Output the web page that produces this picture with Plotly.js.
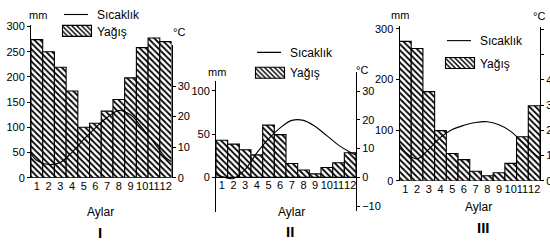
<!DOCTYPE html>
<html>
<head>
<meta charset="utf-8">
<script src="https://cdn.plot.ly/plotly-3.0.1.min.js"></script>
<style>html,body{margin:0;padding:0;background:#fff;}#chart{width:550px;height:243px;}</style>
</head>
<body>
<div id="chart"></div>
<script>
// ---- data ----
const months = [1,2,3,4,5,6,7,8,9,10,11,12];
const monthLabels = ['1','2','3','4','5','6','7','8','9','10','11','12'];

// Panel I
const rainI = [274, 250, 219, 172, 100, 108, 132, 155, 198, 258, 277, 270];
const tempI = [5.6, 4.3, 5.0, 8.3, 12.5, 16.3, 19.7, 22.0, 20.6, 16.3, 11.5, 6.6];
const tempIEdges = [7.7, 5.2];

// Panel II
const rainII = [43, 38.5, 32, 26, 60.5, 49.5, 16, 8.5, 4, 11.5, 17, 28.5];
const tempII = [0.3, -0.4, 2.7, 8.5, 13.4, 17.2, 19.8, 19.8, 17.7, 14.5, 11.2, 8.7];
const tempIIEdges = [1.0, 7.7];

// Panel III
const rainIII = [275, 261, 176, 99, 54, 42, 19, 10, 16, 34.5, 87, 148];
const tempIII = [11.4, 8.7, 12.5, 17.2, 20.3, 22.0, 23.1, 23.4, 22.2, 19.6, 15.2, 10.8];
const tempIIIEdges = [14.5, 9.1];

const mmTicksI = [0,50,100,150,200,250,300];
const cTicksI = [0,10,20,30];
const mmTicksII = [0,50,100];
const cTicksII = [-10,0,10,20,30];
const mmTicksIII = [0,100,200,300];
const cTicksIII = [0,10,20,30,40,50,60];
const cTextIII = ['0','10','20','30','40','',''];

const nameLine = 'Sıcaklık';
const nameBar = 'Yağış';

// ---- helpers ----
const W = 550, H = 243;
const px = v => v / W;
const py = v => 1 - v / H;
const FONT = 'Liberation Sans, Arial, sans-serif';

const edgeX = [0.5].concat(months, [12.5]);
function lineY(t, e){ return [e[0]].concat(t, [e[1]]); }

const pattern = {shape: '\\', fgcolor: '#000', bgcolor: '#fff', size: 4.3, solidity: 0.42, fillmode: 'replace'};
function barTrace(y, xa, ya, lg){
  return {type:'bar', x: months, y: y, xaxis: xa, yaxis: ya, name: nameBar, legend: lg,
    marker: {color:'#fff', line:{color:'#000', width:1.1}, pattern: pattern}, width: 1, hoverinfo:'skip'};
}
function lineTrace(t, e, xa, ya, lg){
  return {type:'scatter', mode:'lines', x: edgeX, y: lineY(t, e), xaxis: xa, yaxis: ya, name: nameLine, legend: lg,
    line: {color:'#000', width:1.1, shape:'spline', smoothing:1}, hoverinfo:'skip', cliponaxis:false};
}

const traces = [
  barTrace(rainI, 'x', 'y', 'legend2'),
  lineTrace(tempI, tempIEdges, 'x', 'y2', 'legend'),
  barTrace(rainII, 'x2', 'y3', 'legend4'),
  lineTrace(tempII, tempIIEdges, 'x2', 'y4', 'legend3'),
  barTrace(rainIII, 'x3', 'y5', 'legend6'),
  lineTrace(tempIII, tempIIIEdges, 'x3', 'y6', 'legend5')
];

const tickFont = {family: FONT, size: 11, color: '#000'};
function xAxis(l, r, base){
  return {domain:[px(l), px(r)], range:[0.5, 12.5], anchor:'free', position: py(base),
    tickvals: months, ticktext: monthLabels, ticks:'', tickangle: 0, showline:false, showgrid:false, zeroline:false,
    tickfont: tickFont, fixedrange:true};
}
function yAxis(anchor, side, top, bottom, zeroPx, pxPerUnit, tv, tt){
  const lo = -(bottom - zeroPx) / pxPerUnit;
  const hi = (zeroPx - top) / pxPerUnit;
  const a = {anchor: anchor, side: side, domain:[py(bottom), py(top)], range:[lo, hi],
    tickvals: tv, ticks:'outside', ticklen:3, tickwidth:1, tickcolor:'#000',
    showline:true, linecolor:'#000', linewidth:1, showgrid:false, zeroline:false,
    tickfont: tickFont, fixedrange:true};
  if (tt) a.ticktext = tt;
  return a;
}
// twin axis that only draws the inner half of each tick, so ticks cross the axis line
function innerTicks(base, over){
  return {anchor: base.anchor, side: base.side, overlaying: over, range: base.range.slice(),
    tickvals: base.tickvals, ticks:'inside', ticklen:3, tickwidth:1, tickcolor:'#000',
    showticklabels:false, showline:false, showgrid:false, zeroline:false, fixedrange:true};
}

function legendAt(x, y){
  return {x: px(x), y: py(y), xanchor:'left', yanchor:'middle', bgcolor:'rgba(0,0,0,0)',
    borderwidth:0, font:{family: FONT, size: 12, color:'#000'}, itemclick:false, itemdoubleclick:false};
}

function ann(text, x, y, size, bold){
  return {text: bold ? '<b>' + text + '</b>' : text, x: px(x), y: py(y), xref:'paper', yref:'paper',
    xanchor:'center', yanchor:'middle', showarrow:false, font:{family: FONT, size: size, color:'#000'}};
}

const yA = yAxis('x', 'left', 19, 176, 176, 155/300, mmTicksI);
const yB = yAxis('x', 'right', 40, 176, 176, 3.13, cTicksI);
const yC = yAxis('x2', 'left', 76.7, 211.7, 175.7, 0.886, mmTicksII);
const yD = yAxis('x2', 'right', 68, 210, 175.7, 2.95, cTicksII);
const yE = yAxis('x3', 'left', 20, 179.3, 179.3, 0.52, mmTicksIII);
const yF = yAxis('x3', 'right', 21.7, 179.3, 179.3, 2.59, cTicksIII, cTextIII);

const layout = {
  width: W, height: H, autosize:false,
  margin:{l:0, r:0, t:0, b:0, pad:0},
  paper_bgcolor:'#fff', plot_bgcolor:'rgba(0,0,0,0)',
  bargap: 0, showlegend: true,
  font:{family: FONT, size: 11, color:'#000'},
  xaxis: xAxis(31, 171.5, 176),
  yaxis: yA, yaxis2: yB,
  xaxis2: xAxis(216, 356, 175.7),
  yaxis3: yC, yaxis4: yD,
  xaxis3: xAxis(399.5, 540, 179.3),
  yaxis5: yE, yaxis6: yF,
  yaxis7: innerTicks(yA, 'y'), yaxis8: innerTicks(yB, 'y2'),
  yaxis9: innerTicks(yC, 'y3'), yaxis10: innerTicks(yD, 'y4'),
  yaxis11: innerTicks(yE, 'y5'), yaxis12: innerTicks(yF, 'y6'),
  legend: legendAt(57, 8.5),
  legend2: legendAt(57, 25.5),
  legend3: legendAt(250, 47.5),
  legend4: legendAt(250, 68.5),
  legend5: legendAt(440, 35.5),
  legend6: legendAt(440, 58.5),
  annotations: [
    ann('mm', 38, 9, 11), ann('°C', 179, 26.5, 11),
    ann('mm', 217, 67.5, 11), ann('°C', 362, 65.5, 11),
    ann('mm', 400, 9.5, 11), ann('°C', 539, 10.5, 11),
    ann('Aylar', 100, 211, 12), ann('Aylar', 291, 211, 12), ann('Aylar', 478, 206, 12),
    ann('I', 100, 232, 15, true), ann('II', 290, 231, 15, true), ann('III', 483, 227, 15, true)
  ]
};

function fixSwatches(gd){
  gd.querySelectorAll('.legendpoints path').forEach(function(p){
    p.setAttribute('d', 'M-14.5,5.5H14.5V-5.5H-14.5Z');
  });
  gd.querySelectorAll('.legendlines path').forEach(function(p){
    p.setAttribute('d', 'M7,0h24');
  });
}

Plotly.newPlot('chart', traces, layout, {staticPlot:true, displayModeBar:false}).then(function(gd){
  fixSwatches(gd);
  setTimeout(function(){ fixSwatches(gd); }, 50);
});
</script>
</body>
</html>
